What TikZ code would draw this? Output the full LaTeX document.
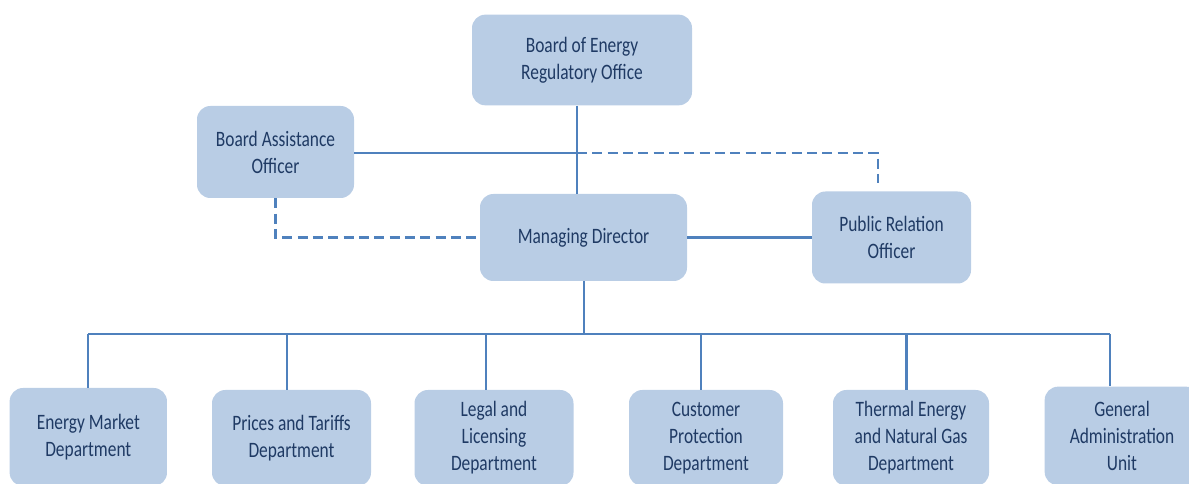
\documentclass[tikz,border=0pt]{standalone}
\usepackage{fontspec}
\setmainfont{Carlito}[FakeStretch=0.79]
\begin{document}
\definecolor{boxblue}{HTML}{B9CDE5}
\definecolor{linkblue}{HTML}{4F81BD}
\definecolor{textblue}{HTML}{1F3A64}
\begin{tikzpicture}[x=0.75pt, y=-0.75pt,
  box/.style={rounded corners=10pt, fill=boxblue, draw=none, align=center,
    text=textblue, inner sep=0pt,
    font=\fontsize{16.5pt}{20.25pt}\selectfont},
  link/.style={draw=linkblue, line width=1.9pt},
  dotted link/.style={link, dash pattern=on 7.5pt off 4pt}]
\useasboundingbox (0,0) rectangle (1189,484);
\clip (0,0) rectangle (1189,484);

% upper level
\node[box, minimum width=165pt, minimum height=68pt] (board) at (582,60)
  {Board of Energy\\Regulatory Office};
\node[box, minimum width=117.75pt, minimum height=69pt] (bao) at (275.5,152)
  {Board Assistance\\Officer};
\node[box, minimum width=155.25pt, minimum height=65.25pt] (md) at (583.5,237.5)
  {Managing Director};
\node[box, minimum width=119.25pt, minimum height=69pt] (pro) at (891.5,237.5)
  {Public Relation\\Officer};

% departments
\node[box, minimum width=118pt, minimum height=73.5pt] (d1) at (88.3,437)
  {Energy Market\\Department};
\node[box, minimum width=119.25pt, minimum height=72pt] (d2) at (291.5,438)
  {Prices and Tariffs\\Department};
\node[box, minimum width=119.25pt, minimum height=72pt] (d3) at (494,438)
  {Legal and\\Licensing\\Department};
\node[box, minimum width=115.5pt, minimum height=72pt] (d4) at (706,438)
  {Customer\\Protection\\Department};
\node[box, minimum width=117pt, minimum height=72pt] (d5) at (911,438)
  {Thermal Energy\\and Natural Gas\\Department};
\node[box, minimum width=116pt, minimum height=74pt] (d6) at (1122,436)
  {General\\Administration\\Unit};

% connector points
\coordinate (trunk) at (577,153);
\coordinate (prturn) at (878,153);
\coordinate (prend) at (878,183);
\coordinate (mdout) at (584,334);
\coordinate (b1) at (88,334);
\coordinate (b2) at (287,334);
\coordinate (b3) at (486,334);
\coordinate (b4) at (701,334);
\coordinate (b5) at (906.5,334);
\coordinate (b6) at (1110,334);

% board to managing director
\draw[link] (board.south -| trunk) -- (md.north -| trunk);
% board assistance officer
\draw[link] (bao.east |- trunk) -- (trunk);
\draw[dotted link] (trunk) -- (prturn) -- (prend);
\draw[dotted link] (bao.south) |- (md.west);
% public relation officer
\draw[link] (md.east) -- (pro.west);

% department bus
\draw[link] (md.south -| mdout) -- (mdout);
\draw[link] (b1) -- (b6);
\draw[link] (b1) -- (d1.north -| b1);
\draw[link] (b2) -- (d2.north -| b2);
\draw[link] (b3) -- (d3.north -| b3);
\draw[link] (b4) -- (d4.north -| b4);
\draw[link] (b5) -- (d5.north -| b5);
\draw[link] (b6) -- (d6.north -| b6);
\end{tikzpicture}
\end{document}
